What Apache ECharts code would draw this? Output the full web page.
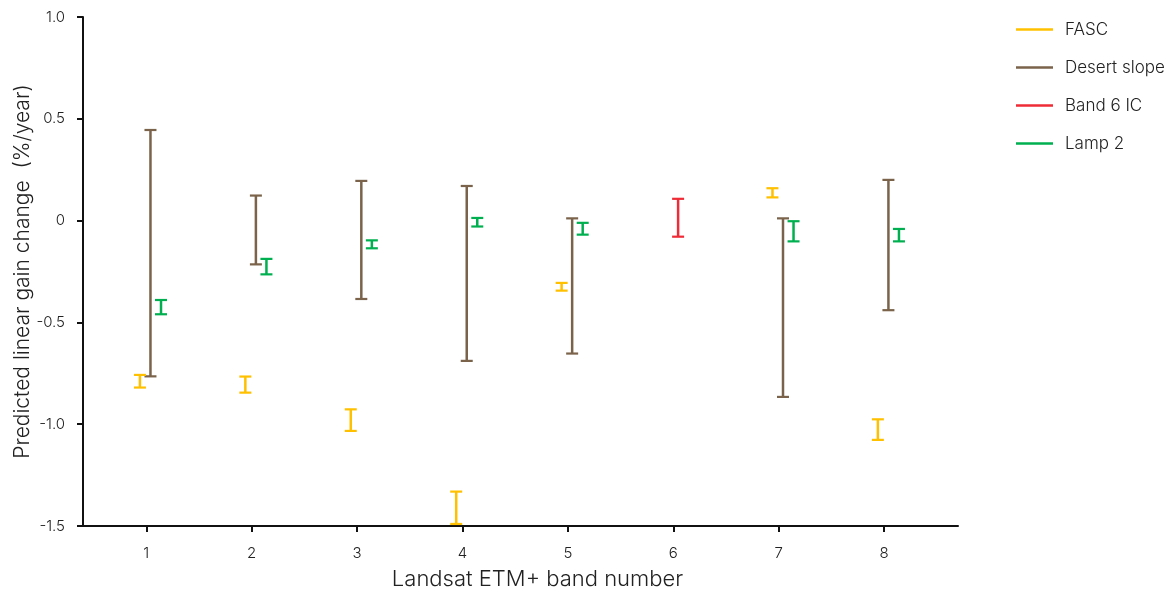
<!DOCTYPE html>
<html>
<head>
<meta charset="utf-8">
<script src="https://cdn.jsdelivr.net/npm/echarts@6/dist/echarts.min.js"></script>
<style>html,body{margin:0;padding:0;background:#fff}#c{width:1168px;height:589px}</style>
</head>
<body>
<div id="c"></div>
<script>
var bands = [1, 2, 3, 4, 5, 6, 7, 8];
var yTicks = [-1.5, -1.0, -0.5, 0, 0.5, 1.0];
var seriesNames = ['FASC', 'Desert slope', 'Band 6 IC', 'Lamp 2'];

// [band, low, high]
var fasc = [
  [1, -0.82, -0.758],
  [2, -0.845, -0.766],
  [3, -1.033, -0.927],
  [4, -1.49, -1.331],
  [5, -0.344, -0.306],
  [7, 0.114, 0.159],
  [8, -1.077, -0.976]
];
var desertSlope = [
  [1, -0.765, 0.445],
  [2, -0.215, 0.123],
  [3, -0.385, 0.195],
  [4, -0.689, 0.17],
  [5, -0.653, 0.011],
  [7, -0.866, 0.011],
  [8, -0.44, 0.2]
];
var band6IC = [
  [6, -0.079, 0.107]
];
var lamp2 = [
  [1, -0.46, -0.39],
  [2, -0.264, -0.188],
  [3, -0.136, -0.097],
  [4, -0.029, 0.013],
  [5, -0.069, -0.011],
  [7, -0.102, -0.003],
  [8, -0.102, -0.041]
];

var colors = ['#FFC000', '#7A634A', '#EE2B36', '#00B050'];
var offsets = [-0.06, 0.04, 0.045, 0.14];

function makeRender(color, offset) {
  return function (params, api) {
    var x = api.value(0) + offset;
    var lo = api.coord([x, api.value(1)]);
    var hi = api.coord([x, api.value(2)]);
    var hw = 6;
    return {
      type: 'group',
      children: [
        {type: 'line', shape: {x1: lo[0], y1: lo[1], x2: hi[0], y2: hi[1]}, style: {stroke: color, lineWidth: 2.5}},
        {type: 'line', shape: {x1: lo[0] - hw, y1: lo[1], x2: lo[0] + hw, y2: lo[1]}, style: {stroke: color, lineWidth: 2.2}},
        {type: 'line', shape: {x1: hi[0] - hw, y1: hi[1], x2: hi[0] + hw, y2: hi[1]}, style: {stroke: color, lineWidth: 2.2}}
      ]
    };
  };
}

var datasets = [fasc, desertSlope, band6IC, lamp2];
var series = datasets.map(function (d, i) {
  return {
    name: seriesNames[i],
    type: 'custom',
    renderItem: makeRender(colors[i], offsets[i]),
    encode: {x: 0, y: [1, 2]},
    data: d,
    itemStyle: {color: colors[i]},
    z: i === 1 ? 2 : 3
  };
});

var font = 'Inter, Roboto, "Noto Sans", sans-serif';
var chart = echarts.init(document.getElementById('c'));
chart.setOption({
  animation: false,
  textStyle: {fontFamily: font, fontWeight: 300},
  color: colors,
  grid: {left: 83, right: 210, top: 17, bottom: 63, containLabel: false, outerBoundsMode: 'none'},
  legend: {
    orient: 'vertical',
    left: 1016,
    top: 21,
    padding: 0,
    icon: 'rect',
    itemWidth: 37,
    itemHeight: 2.5,
    itemGap: 21,
    data: seriesNames,
    textStyle: {fontFamily: font, fontWeight: 300, fontSize: 17, color: '#222', lineHeight: 16, padding: [0, 0, 0, 7]}
  },
  xAxis: {
    type: 'value',
    min: 0.4,
    max: 8.7,
    name: 'Landsat ETM+ band number',
    nameLocation: 'middle',
    nameGap: 42,
    nameMoveOverlap: false,
    nameTextStyle: {fontFamily: font, fontWeight: 300, fontSize: 22, color: '#222', padding: [0, 0, 0, 34]},
    splitLine: {show: false},
    axisLine: {onZero: false, lineStyle: {color: '#111', width: 2}},
    axisTick: {show: true, customValues: bands, length: 6, lineStyle: {color: '#111', width: 2}},
    axisLabel: {customValues: bands, margin: 20, fontSize: 15, fontWeight: 300, color: '#222', fontFamily: font}
  },
  yAxis: {
    type: 'value',
    min: yTicks[0],
    max: yTicks[yTicks.length - 1],
    interval: 0.5,
    name: 'Predicted linear gain change  (%/year)',
    nameLocation: 'middle',
    nameRotate: 90,
    nameGap: 50,
    nameMoveOverlap: false,
    nameTextStyle: {fontFamily: font, fontWeight: 300, fontSize: 21, color: '#222'},
    splitLine: {show: false},
    axisLine: {show: true, onZero: false, lineStyle: {color: '#111', width: 2}},
    axisTick: {show: true, length: 6, lineStyle: {color: '#111', width: 2}},
    axisLabel: {
      margin: 18, fontSize: 15, fontWeight: 300, color: '#222', fontFamily: font,
      formatter: function (v) { return v === 0 ? '0' : v.toFixed(1); }
    }
  },
  series: series
});
</script>
</body>
</html>
